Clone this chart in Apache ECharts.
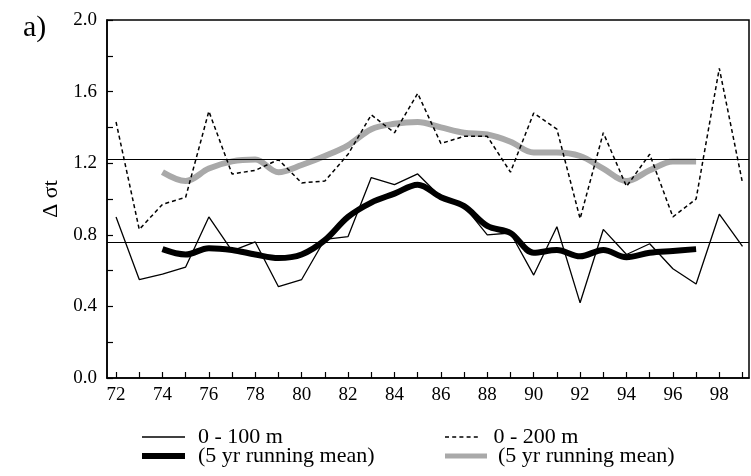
<!DOCTYPE html>
<html>
<head>
<meta charset="utf-8">
<script src="https://cdn.jsdelivr.net/npm/echarts@6/dist/echarts.min.js"></script>
<style>html,body{margin:0;padding:0;background:#fff}#c{width:751px;height:476px}</style>
</head>
<body>
<div id="c"></div>
<script>
var years = [72,73,74,75,76,77,78,79,80,81,82,83,84,85,86,87,88,89,90,91,92,93,94,95,96,97,98,99];
var shallow = [0.90,0.55,0.58,0.62,0.90,0.71,0.76,0.51,0.55,0.775,0.79,1.12,1.08,1.14,1.01,0.96,0.80,0.81,0.575,0.845,0.42,0.83,0.69,0.75,0.61,0.525,0.915,0.735];
var deep = [1.43,0.83,0.97,1.01,1.49,1.14,1.16,1.22,1.09,1.10,1.25,1.47,1.37,1.59,1.31,1.35,1.35,1.15,1.48,1.39,0.89,1.37,1.07,1.25,0.90,1.00,1.73,1.09];
var meanYears = [74,75,76,77,78,79,80,81,82,83,84,85,86,87,88,89,90,91,92,93,94,95,96,97];
var shallowMean = [0.72,0.69,0.725,0.715,0.69,0.67,0.69,0.77,0.90,0.98,1.03,1.08,1.01,0.96,0.85,0.81,0.70,0.715,0.68,0.715,0.675,0.70,0.71,0.72];
var deepMean = [1.15,1.10,1.17,1.21,1.22,1.15,1.19,1.24,1.30,1.39,1.42,1.43,1.40,1.37,1.36,1.32,1.26,1.26,1.24,1.17,1.10,1.16,1.21,1.21];
var referenceLevels = [1.22, 0.76];
var xTickValues = [72,73,74,75,76,77,78,79,80,81,82,83,84,85,86,87,88,89,90,91,92,93,94,95,96,97,98,99];
var xLabelValues = [72,74,76,78,80,82,84,86,88,90,92,94,96,98];
var yLabelValues = [0,0.4,0.8,1.2,1.6,2.0];
var names = ['0 - 100 m', '(5 yr running mean)', '0 - 200 m', '(5 yr running mean) '];

function pairs(xs, ys){ return xs.map(function(x,i){ return [x, ys[i]]; }); }

var FONT = 'Liberation Serif';
var GRAY = '#a9a9a9';
var DASH_ICON = 'path://M0,0h5v2h-5z M9,0h5v2h-5z M18,0h5v2h-5z M27,0h5v2h-5z M36,0h5v2h-5z';
function legendText(pad){ return {fontFamily: FONT, fontSize: 22, color:'#000', padding:[0,0,0,pad]}; }
function legend(name, left, top, w, h, icon, color, pad){
  return {data:[{name: name, icon: icon, itemStyle:{color: color, borderWidth:0}}], left: left, top: top,
    itemWidth: w, itemHeight: h, textStyle: legendText(pad), selectedMode:false};
}
var chart = echarts.init(document.getElementById('c'), null, {renderer:'canvas'});
chart.setOption({
  animation: false,
  backgroundColor: '#fff',
  title: {text: 'a)', left: 18, top: 8, textStyle:{fontFamily: FONT, fontSize: 30, fontWeight:'normal', color:'#000'}},
  grid: {left: 107, right: 2, top: 20, bottom: 98, show: true, borderColor:'#000', borderWidth: 1.5},
  legend: [
    legend(names[0], 137, 421, 43, 1.6, 'rect', '#000', 8),
    legend(names[1], 137, 440, 43, 6, 'rect', '#000', 8),
    legend(names[2], 440, 421, 42, 1.6, DASH_ICON, '#000', 6),
    legend(names[3], 440, 440, 42, 5, 'rect', GRAY, 6)
  ],
  xAxis: {
    type: 'value', min: 71.61, max: 99.28,
    axisLine: {show: true, lineStyle:{color:'#000', width:1.5}},
    axisTick: {show: true, inside: true, length: 6, customValues: xTickValues, lineStyle:{color:'#000', width:1.2}},
    axisLabel: {customValues: xLabelValues, margin: 8, fontFamily: FONT, fontSize: 19, color:'#000'},
    splitLine: {show: false}
  },
  yAxis: {
    type: 'value', min: 0, max: 2, interval: 0.2,
    name: 'Δ σt', nameLocation: 'middle', nameRotate: 90, nameGap: 40,
    nameTextStyle: {fontFamily: FONT, fontSize: 22, color:'#000'},
    axisLine: {show: true, lineStyle:{color:'#000', width:1.5}},
    axisTick: {show: true, inside: true, length: 6, lineStyle:{color:'#000', width:1.2}},
    axisLabel: {customValues: yLabelValues, margin: 10, fontFamily: FONT, fontSize: 19, color:'#000',
      formatter: function(v){ return v.toFixed(1); }},
    splitLine: {show: false}
  },
  series: [
    {name: names[0], type:'line', data: pairs(years, shallow), symbol:'none', z: 3,
     lineStyle:{color:'#000', width:1.3},
     markLine: {silent:true, symbol:'none', label:{show:false},
       lineStyle:{color:'#000', width:1, type:'solid'},
       data: referenceLevels.map(function(v){ return {yAxis: v}; })}},
    {name: names[1], type:'line', data: pairs(meanYears, shallowMean), symbol:'none', smooth: 0.35, z: 4,
     lineStyle:{color:'#000', width:6}},
    {name: names[2], type:'line', data: pairs(years, deep), symbol:'none', z: 3,
     lineStyle:{color:'#000', width:1.5, type:[4,3]}},
    {name: names[3], type:'line', data: pairs(meanYears, deepMean), symbol:'none', smooth: 0.35, z: 2,
     lineStyle:{color: GRAY, width:6}}
  ]
});
</script>
</body>
</html>
